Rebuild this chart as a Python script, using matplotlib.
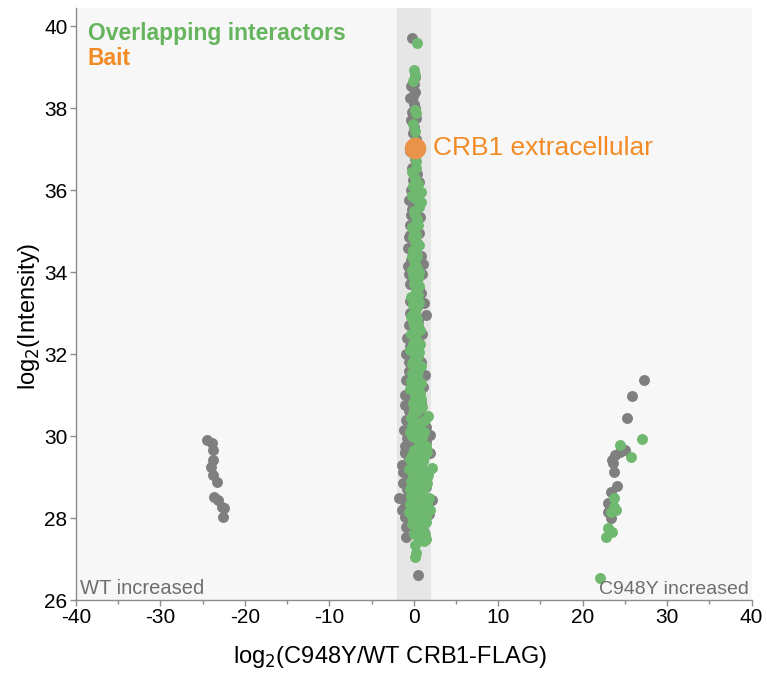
import matplotlib
matplotlib.use("Agg")
import matplotlib.pyplot as plt
from matplotlib.ticker import MultipleLocator

plt.rcParams['font.family'] = ['Liberation Sans', 'DejaVu Sans']
plt.rcParams['axes.unicode_minus'] = False

# ---- data ----
gray_mid_x = [-0.2, 0.1, -0.3, 0.2, -0.4, 0.0, -0.2, 0.3, -0.1, 0.3, 0.2, -0.2, 0.4, 0.6, -0.3, 0.5,
              -0.2, 0.7, -0.5, 0.6, -0.7, 0.9, -0.7, 1.0, -0.4, 0.8, -0.5, 1.5, -0.6, 1.0, -0.9, 0.9,
              -0.6, -0.9, 1.1, -1.1, 0.8, -0.6, -0.9, 1.5, -1.2, 1.9, -0.8, -1.1, 1.9, -1.1, -0.6, -1.3,
              1.6, -1.3, -0.8, -1.7, 2.1, -1.0, 1.8, -1.1, -0.6, -0.9, -0.9, 0.5, 0.2, -0.2, 0.0, 0.3,
              -0.3, 0.1, 0.4, -0.2, 0.6, 0.0, -0.4, -0.6, -0.6, 1.1, -0.6, 1.2, -0.8, 1.3, -1.0, 1.4,
              -1.4, 1.5, -1.4, 1.2,
              0.0, -0.1, 0.1, -0.3, 0.0, -0.2, 0.1, -0.1, 0.2, -0.3, 0.1, -0.4, 0.4, -0.3, 0.5, -0.2,
              0.6, -0.4, 0.5, -0.5, 0.4, -0.6, 0.6, -0.5, 0.9, -0.7, 1.1, -0.8, 1.0, -0.9, 1.2, -0.4,
              -0.6, -1.0]
gray_mid_y = [39.70, 38.75, 38.55, 38.40, 38.25, 38.10, 37.90, 37.75, 37.40, 37.25, 36.75, 36.55, 36.40, 36.20, 36.00, 35.85,
              35.55, 35.35, 35.15, 34.95, 34.60, 34.40, 34.15, 33.95, 33.70, 33.50, 33.30, 32.95, 32.70, 32.50, 32.00, 31.80,
              31.60, 31.37, 31.20, 31.00, 30.80, 30.60, 30.40, 30.23, 30.15, 30.02, 29.95, 29.75, 29.58, 29.58, 29.45, 29.12,
              29.00, 28.85, 28.70, 28.49, 28.44, 28.30, 28.10, 28.02, 27.90, 27.78, 27.54, 26.61, 33.10, 32.30, 31.40, 30.90,
              30.30, 29.80, 29.20, 28.60, 28.20, 27.80, 36.95, 35.75, 34.85, 34.20, 33.95, 33.25, 32.40, 31.50, 30.75, 29.85,
              29.30, 28.75, 28.20, 27.65,
              38.60, 38.30, 38.00, 37.70, 37.55, 37.10, 36.90, 36.25, 35.70, 35.40, 35.20, 34.90, 34.70, 34.30, 34.00, 33.80,
              33.60, 33.00, 32.80, 32.20, 32.00, 31.80, 31.30, 30.95, 30.50, 30.10, 29.70, 29.30, 28.90, 28.50, 28.40, 28.00,
              29.00, 29.60]

green_mid_x = [0.4, 0.0, 0.2, -0.1, 0.1, 0.3, -0.1, 0.1, 0.0, 0.3, -0.2, 0.1, 0.5, -0.1, 0.9, 0.8,
               0.2, 0.0, 0.4, -0.2, 0.3, 0.1, -0.1, 0.4, 0.2, -0.2, 0.5, 0.0, 0.3, -0.3, 0.6, 0.1,
               -0.2, 0.4, 0.0, 0.7, -0.3, 0.3, 0.1, -0.4, 0.5, 0.0, 0.8, -0.2, 0.4, 0.1, -0.4, 0.7,
               0.2, -0.1, 1.0, 0.4, 1.7, -0.3, 0.8, 0.2, 1.2, -0.2, 0.6, 1.4, 0.0, 0.9, -0.4, 0.4,
               2.1, 1.3, -0.1, 0.7, 1.6, 0.2, 1.0, -0.3, 1.8, 0.5, 1.2, -0.1, 1.9, 0.8, 0.3, 1.4,
               -0.2, 0.9, 0.4, 1.5, 0.9, 0.3, 0.1, 0.0, 0.6, 0.2, 0.5, -0.1, 0.2, 0.6, 0.1, 0.5,
               -0.1, 0.5, 1.0, 0.2, 1.1, 0.6, 1.4, 0.1, 1.1, 0.6, 1.3, 0.2, 0.0, 0.3, -0.2, 0.6,
               0.2, 0.5, -0.1, 0.3, 0.0, 0.4, -0.1, 0.3, 0.6, 0.0, 0.4, 0.2, -0.1, 0.5, 0.2, -0.1,
               0.4, 0.2, -0.2, 0.5, 0.3, 0.0, 0.9, 0.5, 0.0, 1.3, 0.4, -0.2, 0.9, 0.3, 1.6, 0.5,
               -0.2, 1.2, 0.1, 0.9, 1.7, -0.3, 0.4, 1.3, 0.7, -0.4, 1.6, 0.9, 0.3, 1.5, -0.2, 0.6,
               1.1, 0.0, 1.2, 0.6, 0.1, 0.4, 0.2, -0.2, 0.6, -0.3, 0.7, -0.3, 0.9, -0.5, -0.6, -0.5,
               -0.6]
green_mid_y = [39.60, 38.92, 38.80, 38.65, 37.95, 37.88, 37.62, 37.45, 36.85, 36.70, 36.45, 36.30, 36.15, 36.10, 35.72, 35.95,
               35.80, 35.50, 35.30, 35.10, 34.90, 34.75, 34.55, 34.40, 34.20, 34.05, 33.85, 33.70, 33.55, 33.40, 33.25, 33.10,
               32.95, 32.85, 32.70, 32.60, 32.50, 32.35, 32.20, 32.10, 31.95, 31.85, 31.70, 31.55, 31.45, 31.30, 31.15, 31.05,
               30.95, 30.80, 30.70, 30.60, 30.50, 30.45, 30.35, 30.20, 30.10, 30.00, 29.90, 29.75, 29.65, 29.55, 29.45, 29.40,
               29.22, 29.15, 29.05, 28.95, 28.85, 28.75, 28.65, 28.55, 28.50, 28.40, 28.30, 28.25, 28.20, 28.10, 28.00, 27.90,
               27.85, 27.75, 27.65, 27.50, 27.54, 27.15, 27.05, 35.00, 34.65, 33.95, 33.45, 33.20, 32.55, 32.05, 31.65, 31.20,
               30.55, 30.05, 29.95, 29.30, 29.40, 29.10, 28.40, 28.45, 28.00, 27.95, 27.60, 37.20, 37.05, 36.55, 35.85, 35.60,
               35.40, 35.15, 34.85, 34.50, 34.30, 34.10, 33.90, 33.75, 33.65, 33.35, 33.15, 33.00, 32.80, 32.70, 32.45, 32.25,
               32.15, 31.90, 31.75, 31.60, 31.40, 31.10, 30.90, 30.85, 30.65, 30.40, 30.30, 30.25, 30.15, 29.95, 29.60, 29.70,
               29.55, 29.50, 29.20, 29.25, 29.05, 28.90, 28.85, 28.75, 28.60, 28.35, 28.35, 28.35, 28.20, 28.05, 28.05, 27.80,
               27.80, 27.60, 27.45, 27.50, 27.35, 36.00, 35.15, 34.40, 34.00, 32.90, 32.25, 31.35, 31.30, 30.10, 29.20, 28.70,
               28.15]

gray_left_x = [-24.5, -23.9, -23.8, -23.8, -24.0, -23.8, -23.3, -23.7, -23.2, -22.7, -22.5, -22.6]
gray_left_y = [29.90, 29.83, 29.66, 29.41, 29.24, 29.05, 28.88, 28.51, 28.44, 28.27, 28.24, 28.02]

gray_right_x = [27.3, 25.8, 25.3, 25.0, 24.4, 23.8, 23.5, 23.6, 23.7, 24.1, 23.4, 23.0, 23.0, 23.3]
gray_right_y = [31.37, 30.98, 30.45, 29.66, 29.60, 29.54, 29.41, 29.34, 29.12, 28.78, 28.64, 28.37, 28.15, 28.00]

green_right_x = [27.0, 24.4, 25.7, 23.7, 23.7, 23.4, 23.9, 23.0, 23.5, 22.8, 22.0]
green_right_y = [29.93, 29.78, 29.49, 28.49, 28.27, 28.15, 28.20, 27.76, 27.67, 27.54, 26.54]

bait_x = [0.1]
bait_y = [37.02]
bait_label = "CRB1 extracellular"

# ---- style ----
GRAY = '#7f7f7f'
GREEN = '#6fb86f'
ORANGE = '#f28b25'
BAIT = '#e9924a'

fig = plt.figure(figsize=(7.67, 6.75), dpi=100)
ax = fig.add_axes([0.099, 0.111, 0.881, 0.877])
ax.set_facecolor('#f7f7f7')
ax.axvspan(-2, 2, color='#e6e6e6', zorder=0, lw=0)

s = 62
ax.scatter(gray_mid_x + gray_left_x + gray_right_x,
           gray_mid_y + gray_left_y + gray_right_y,
           s=s, color=GRAY, lw=0, zorder=2)
ax.scatter(green_mid_x + green_right_x, green_mid_y + green_right_y,
           s=s, color=GREEN, lw=0, zorder=3)
ax.scatter(bait_x, bait_y, s=240, color=BAIT, lw=0, zorder=4)
ax.text(2.3, bait_y[0], bait_label, color=ORANGE, fontsize=19, va='center', ha='left', zorder=5)

ax.text(-38.6, 39.83, 'Overlapping interactors', color='#66b55e', fontsize=16.5, fontweight='bold',
        va='center', ha='left')
ax.text(-38.6, 39.22, 'Bait', color=ORANGE, fontsize=16.5, fontweight='bold', va='center', ha='left')
ax.text(-39.5, 26.05, 'WT increased', color='#6e6e6e', fontsize=14.5, va='bottom', ha='left')
ax.text(39.7, 26.05, 'C948Y increased', color='#6e6e6e', fontsize=14, va='bottom', ha='right')

ax.set_xlim(-40, 40)
ax.set_ylim(26, 40.44)
ax.xaxis.set_major_locator(MultipleLocator(10))
ax.xaxis.set_minor_locator(MultipleLocator(5))
ax.yaxis.set_major_locator(MultipleLocator(2))
for sp in ['top', 'right']:
    ax.spines[sp].set_visible(False)
for sp in ['left', 'bottom']:
    ax.spines[sp].set_color('#8c8c8c')
    ax.spines[sp].set_linewidth(1.0)
ax.tick_params(axis='both', which='major', labelsize=15, color='#8c8c8c', length=4, width=1, pad=2)
ax.tick_params(axis='x', which='minor', color='#8c8c8c', length=3, width=1)

ax.set_xlabel('log$_2$(C948Y/WT CRB1-FLAG)', fontsize=17, labelpad=10)
ax.xaxis.set_label_coords(0.465, -0.075)
ax.set_ylabel('log$_2$(Intensity)', fontsize=17, labelpad=6)
ax.yaxis.set_label_coords(-0.05, 0.48)

fig.savefig('out.png', dpi=100)
